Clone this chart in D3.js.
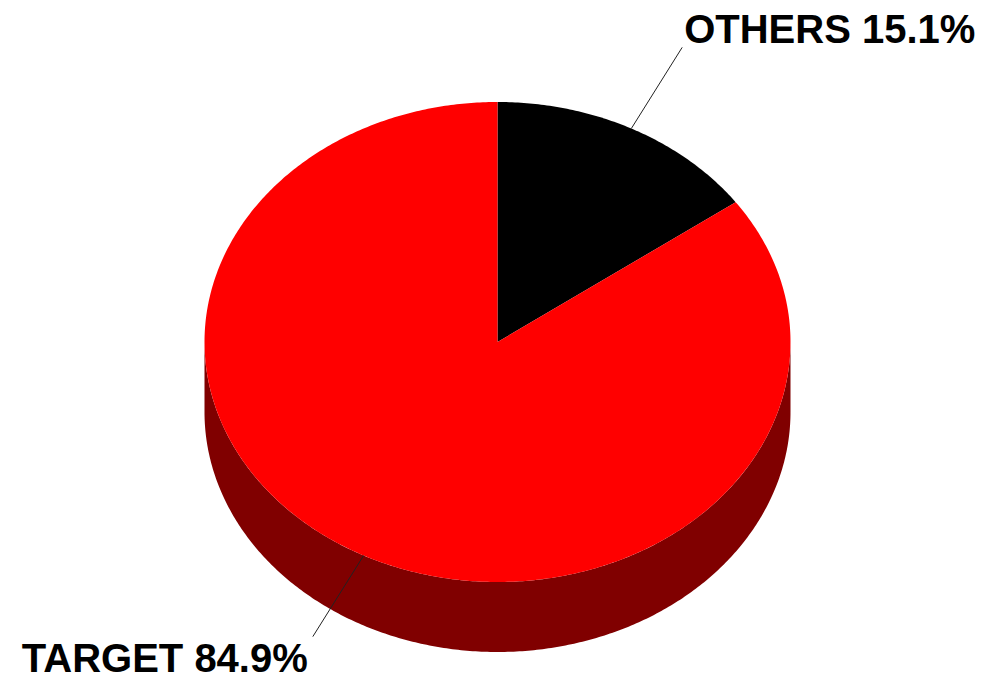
<!DOCTYPE html>
<html><head><meta charset="utf-8">
<script src="https://cdn.jsdelivr.net/npm/d3@7"></script>
<style>html,body{margin:0;padding:0;background:#fff;}svg{display:block;}</style>
</head><body>
<svg id="chart" width="985" height="682"></svg>
<script>
const categories = ["OTHERS", "TARGET"];
const values = [15.1, 84.9];
const topColors = ["#000000", "#ff0000"];
const sideColors = ["#000000", "#800000"];

const W = 985, H = 682;
const cx = 497.5, cy = 342, rx = 293, ry = 240, depth = 70;
const svg = d3.select("#chart");

const pie = d3.pie().sort(null).value(d => d.v);
const arcs = pie(categories.map((c, i) => ({c, v: values[i], i})));

const pt = (a, k = 1, dy = 0) => [cx + rx * k * Math.sin(a), cy - ry * k * Math.cos(a) + dy];
const line = d3.line();
const sample = (a0, a1, k, dy) => {
  const n = Math.max(2, Math.ceil(Math.abs(a1 - a0) / 0.01));
  return d3.range(n + 1).map(j => pt(a0 + (a1 - a0) * j / n, k, dy));
};

// sides (visible front half: angles between PI/2 and 3PI/2)
const gSide = svg.append("g");
arcs.forEach(d => {
  const s = Math.max(d.startAngle, Math.PI / 2), e = Math.min(d.endAngle, 3 * Math.PI / 2);
  if (e <= s) return;
  const pts = sample(s, e, 1, 0).concat(sample(e, s, 1, depth));
  gSide.append("path").attr("d", line(pts) + "Z").attr("fill", sideColors[d.data.i]);
});

// tops
const gTop = svg.append("g");
arcs.forEach(d => {
  const pts = [[cx, cy]].concat(sample(d.startAngle, d.endAngle, 1, 0));
  gTop.append("path").attr("d", line(pts) + "Z").attr("fill", topColors[d.data.i]);
});

// labels
const gLab = svg.append("g");
arcs.forEach(d => {
  const m = (d.startAngle + d.endAngle) / 2;
  const p0 = pt(m, 1), p1 = pt(m, 1.38);
  gLab.append("line").attr("x1", p0[0]).attr("y1", p0[1]).attr("x2", p1[0]).attr("y2", p1[1])
    .attr("stroke", "#222").attr("stroke-width", 1);
  const right = Math.sin(m) >= 0;
  const up = Math.cos(m) > 0;
  gLab.append("text")
    .attr("x", right ? p1[0] + 2 : p1[0] - 5)
    .attr("y", up ? p1[1] - 4 : p1[1] + 35)
    .attr("text-anchor", right ? "start" : "end")
    .attr("font-family", "Liberation Sans, Arial, sans-serif")
    .attr("font-weight", "bold").attr("font-size", 40).attr("fill", "#000")
    .text(`${d.data.c} ${d3.format(".1f")(d.data.v)}%`);
});
</script>
</body></html>
